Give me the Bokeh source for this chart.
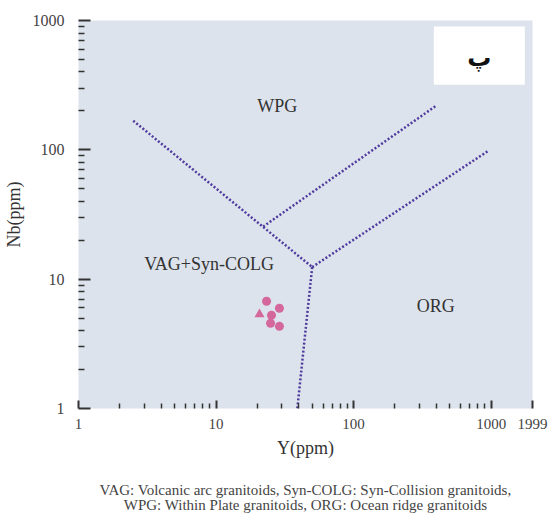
from bokeh.plotting import figure
from bokeh.models import Range1d, FixedTicker, PrintfTickFormatter, Title
from bokeh.core.properties import value
from bokeh.embed import file_html
from bokeh.resources import INLINE

# ---- data ----
circle_y = [23.3, 28.9, 25.3, 24.9, 28.9]
circle_nb = [6.75, 5.96, 5.26, 4.56, 4.32]
tri_y = [20.7]
tri_nb = [5.35]

vag_wpg_x = [2.5, 50]
vag_wpg_y = [168, 12.4]
vag_org_x = [50, 39]
vag_org_y = [12.4, 1]
wpg_org_x = [50, 950]
wpg_org_y = [12.4, 98]
wpg_inner_x = [22, 400]
wpg_inner_y = [25.5, 220]

x_major = [1, 10, 100, 1000, 1999]
x_minor = [2, 3, 4, 5, 6, 7, 8, 9, 20, 30, 40, 50, 60, 70, 80, 90, 200, 300, 400, 500, 600, 700, 800, 900]
y_major = [1, 10, 100, 1000]
y_minor = x_minor

region_labels = ["WPG", "VAG+Syn-COLG", "ORG"]
region_x = [27.9, 8.9, 395]
region_y = [219, 13.1, 6.18]

panel_letter = "پ"
caption1 = "VAG: Volcanic arc granitoids, Syn-COLG: Syn-Collision granitoids,"
caption2 = "WPG: Within Plate granitoids, ORG: Ocean ridge granitoids"

SERIF = "Liberation Serif"
LINE_COLOR = "#4f3a9e"
PT_COLOR = "#d4679c"

p = figure(width=556, height=513, x_axis_type="log", y_axis_type="log",
           x_range=Range1d(1, 1999), y_range=Range1d(1, 1000),
           output_backend="svg", toolbar_location=None,
           min_border_left=76, min_border_right=24, min_border_top=20, min_border_bottom=105)
p.background_fill_color = "#dce3ec"
p.border_fill_color = "white"
p.outline_line_color = None
p.xgrid.visible = False
p.ygrid.visible = False

for ax in (p.xaxis[0], p.yaxis[0]):
    ax.axis_line_color = None
    ax.major_tick_out = 0
    ax.minor_tick_out = 0
    ax.major_tick_line_color = "#333333"
    ax.minor_tick_line_color = "#333333"
    ax.major_tick_line_width = 2
    ax.minor_tick_line_width = 1.5
    ax.major_label_text_font = SERIF
    ax.major_label_text_color = "#444444"
    ax.axis_label_text_font = SERIF
    ax.axis_label_text_font_style = "normal"
    ax.axis_label_text_color = "#333333"
    ax.axis_label_text_font_size = "18px"
    ax.formatter = PrintfTickFormatter(format="%d")

p.xaxis.ticker = FixedTicker(ticks=x_major, minor_ticks=x_minor)
p.yaxis.ticker = FixedTicker(ticks=y_major, minor_ticks=y_minor)
p.xaxis.major_tick_in = 8
p.xaxis.minor_tick_in = 5
p.yaxis.major_tick_in = 12
p.yaxis.minor_tick_in = 6
p.xaxis.major_label_text_font_size = "15px"
p.yaxis.major_label_text_font_size = "16px"
p.xaxis.major_label_standoff = 10
p.yaxis.major_label_standoff = 14
p.xaxis.axis_label = "Y(ppm)"
p.yaxis.axis_label = "Nb(ppm)"
p.xaxis.axis_label_standoff = 6
p.yaxis.axis_label_standoff = 6

for xs, ys in ((vag_wpg_x, vag_wpg_y), (vag_org_x, vag_org_y),
               (wpg_org_x, wpg_org_y), (wpg_inner_x, wpg_inner_y)):
    p.line(xs, ys, line_color=LINE_COLOR, line_width=2.5, line_dash="2 2")

p.scatter(circle_y, circle_nb, marker="circle", size=9, fill_color=PT_COLOR, line_color=None)
p.scatter(tri_y, tri_nb, marker="triangle", size=10, fill_color=PT_COLOR, line_color=None)

p.text(region_x, region_y, text=region_labels, text_font=value(SERIF), text_font_size="18px",
       text_color="#333333", text_align="center", text_baseline="middle")

# panel letter box
p.quad(left=[383], right=[1757], bottom=[319], top=[898], fill_color="white", line_color=None)
p.text([820], [517], text=[panel_letter], text_font=value("DejaVu Sans"), text_font_size="24px",
       text_font_style="bold", text_color="#111111", text_align="center", text_baseline="middle")

# caption below (a thin spacer first, then the two caption lines)
p.add_layout(Title(text=" ", text_font_size="2px", standoff=17), "below")
for txt, so in ((caption1, -3), (caption2, -3)):
    p.add_layout(Title(text=txt, text_font=SERIF, text_font_size="15px", text_font_style="normal",
                       text_color="#444444", align="center", standoff=so, offset=0), "below")

open("out.html", "w").write(file_html(p, INLINE))
